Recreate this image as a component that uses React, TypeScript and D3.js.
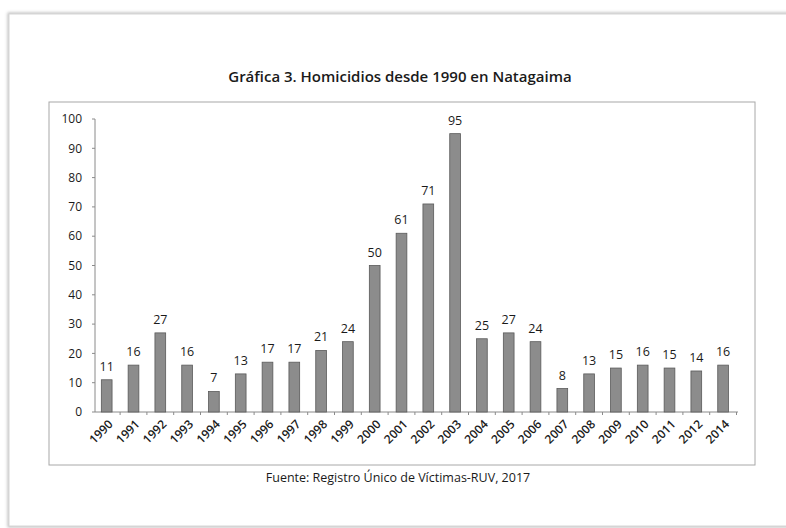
import * as d3 from 'd3'

const years = [
  "1990", "1991", "1992", "1993", "1994", "1995", "1996", "1997", "1998", "1999",
  "2000", "2001", "2002", "2003", "2004", "2005", "2006", "2007", "2008", "2009",
  "2010", "2011", "2012", "2014"
]
const homicides = [11, 16, 27, 16, 7, 13, 17, 17, 21, 24, 50, 61, 71, 95, 25, 27, 24, 8, 13, 15, 16, 15, 14, 16]
const yTicks = [0, 10, 20, 30, 40, 50, 60, 70, 80, 90, 100]

const title = "Gráfica 3. Homicidios desde 1990 en Natagaima"
const source = "Fuente: Registro Único de Víctimas-RUV, 2017"

const width = 786
const height = 528
const font = "'Open Sans', 'Noto Sans', sans-serif"

export default function App() {
  // x band scale: one band per year
  const x = d3.scaleBand()
    .domain(years)
    .range([93.3, 736.5])
    .paddingInner(0.6)
    .paddingOuter(0.3)

  const y = d3.scaleLinear().domain([0, 100]).range([412, 119])

  const axisLeft = 95
  const axisRight = 738
  const step = x.step()
  const bounds = years.map((_, i) => 93.3 + (i + 1) * step).filter(v => v < axisRight)

  return (
    <svg width={width} height={height} style={{ position: 'absolute', left: 0, top: 0, background: '#fff' }}>
      <defs>
        <filter id="shadow" x="-5%" y="-5%" width="110%" height="110%">
          <feGaussianBlur stdDeviation="1.5" />
        </filter>
      </defs>

      {/* scanned page frame */}
      <rect x={9} y={14} width={800} height={512} fill="none" stroke="#bdbdbd" strokeWidth={3} filter="url(#shadow)" />
      <rect x={9} y={14} width={800} height={512} fill="#fff" stroke="#d6d6d6" strokeWidth={1} />

      <text x={400} y={82} textAnchor="middle" fontFamily={font} fontWeight={600} fontSize={15} fill="#1a1a1a">
        {title}
      </text>

      {/* chart area border */}
      <rect x={49} y={102} width={706} height={363} fill="none" stroke="#a8a8a8" strokeWidth={1} />

      {/* y axis */}
      <line x1={axisLeft} x2={axisLeft} y1={y(0)} y2={y(100)} stroke="#8a8a8a" strokeWidth={1} />
      {yTicks.map(t => (
        <g key={t}>
          <line x1={axisLeft - 3} x2={axisLeft} y1={y(t)} y2={y(t)} stroke="#8a8a8a" />
          <text x={82} y={y(t)} dy="0.35em" textAnchor="end" fontFamily={font} fontSize={12} fill="#1a1a1a">
            {t}
          </text>
        </g>
      ))}

      {/* x axis */}
      <line x1={axisLeft} x2={axisRight} y1={y(0)} y2={y(0)} stroke="#8a8a8a" strokeWidth={1} />
      {bounds.map((b, i) => (
        <line key={i} x1={b} x2={b} y1={y(0)} y2={y(0) + 3} stroke="#8a8a8a" />
      ))}

      {/* bars */}
      {years.map((yr, i) => (
        <rect
          key={yr}
          x={x(yr)}
          y={y(homicides[i])}
          width={x.bandwidth()}
          height={y(0) - y(homicides[i])}
          fill="#8c8c8c"
          stroke="#5a5a5a"
          strokeWidth={0.8}
        />
      ))}

      {/* value labels */}
      {years.map((yr, i) => (
        <text
          key={yr}
          x={(x(yr) || 0) + x.bandwidth() / 2}
          y={y(homicides[i]) - 9}
          textAnchor="middle"
          fontFamily={font}
          fontSize={12.5}
          fill="#1a1a1a"
        >
          {homicides[i]}
        </text>
      ))}

      {/* year labels */}
      {years.map(yr => {
        const cx = (x(yr) || 0) + x.bandwidth() / 2 + 4
        const cy = y(0) + 10
        return (
          <text
            key={yr}
            transform={`translate(${cx},${cy}) rotate(-45)`}
            textAnchor="end"
            dy="0.35em"
            fontFamily={font}
            fontWeight={600}
            fontSize={12}
            fill="#1a1a1a"
          >
            {yr}
          </text>
        )
      })}

      <text x={398} y={482} textAnchor="middle" fontFamily={font} fontSize={12.5} fill="#1a1a1a">
        {source}
      </text>
    </svg>
  )
}
